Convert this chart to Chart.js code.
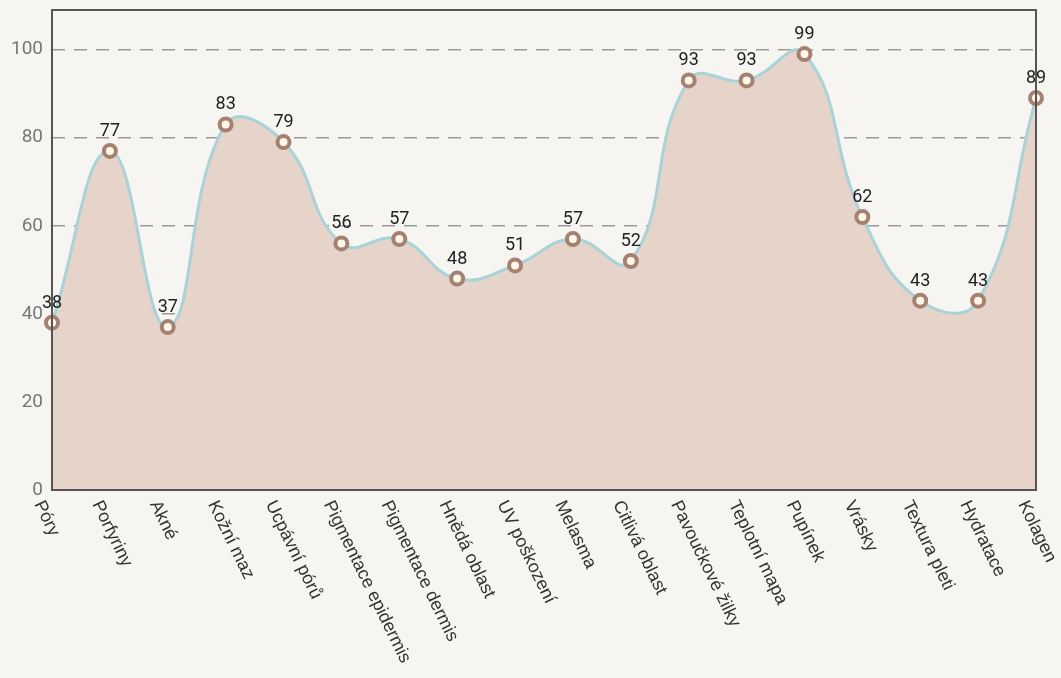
<!DOCTYPE html>
<html>
<head>
<meta charset="utf-8">
<script src="https://cdn.jsdelivr.net/npm/chart.js@4/dist/chart.umd.min.js"></script>
<style>
html,body{margin:0;padding:0;background:#f7f5f1;}
#wrap{position:relative;width:1061px;height:678px;}
</style>
</head>
<body>
<div id="wrap"><canvas id="c"></canvas></div>
<script>
const categories = ["Póry","Porfyriny","Akné","Kožní maz","Ucpávní pórů","Pigmentace epidermis","Pigmentace dermis","Hnědá oblast","UV poškození","Melasma","Citlivá oblast","Pavoučkové žilky","Teplotní mapa","Pupínek","Vrásky","Textura pleti","Hydratace","Kolagen"];
const values = [38,77,37,83,79,56,57,48,51,57,52,93,93,99,62,43,43,89];
const yTicks = [0,20,40,60,80,100];
const yMax = 109;

const framePlugin = {
  id: 'frame',
  afterDatasetsDraw(chart) {
    const ctx = chart.ctx;
    const meta = chart.getDatasetMeta(0);
    ctx.save();
    ctx.font = '400 18px Roboto';
    ctx.fillStyle = '#222';
    ctx.textAlign = 'center';
    ctx.textBaseline = 'alphabetic';
    meta.data.forEach((pt, i) => {
      ctx.fillText(String(values[i]), pt.x, pt.y - 15);
    });
    ctx.restore();
  },
  afterDraw(chart) {
    const ctx = chart.ctx;
    const a = chart.chartArea;
    ctx.save();
    ctx.strokeStyle = '#555';
    ctx.lineWidth = 2;
    ctx.strokeRect(a.left, a.top, a.right - a.left, a.bottom - a.top);
    ctx.restore();
    const xs = chart.scales.x;
    ctx.save();
    ctx.font = '18px "Liberation Sans"';
    ctx.fillStyle = '#333';
    ctx.textAlign = 'left';
    ctx.textBaseline = 'alphabetic';
    categories.forEach((lab, i) => {
      const x = xs.getPixelForValue(i);
      ctx.save();
      ctx.translate(x - 18, a.bottom + 14);
      ctx.rotate(64 * Math.PI / 180);
      ctx.fillText(lab, 0, 0);
      ctx.restore();
    });
    ctx.restore();
  }
};

new Chart(document.getElementById('c'), {
  type: 'line',
  data: {
    labels: categories,
    datasets: [{
      data: values,
      fill: 'origin',
      backgroundColor: '#e6d3c9',
      borderColor: '#a9d3d7',
      borderWidth: 3,
      tension: 0.45,
      pointRadius: 6,
      pointBorderWidth: 4,
      pointBackgroundColor: '#fff8e8',
      pointBorderColor: '#a48170',
      clip: false
    }]
  },
  options: {
    responsive: true,
    maintainAspectRatio: false,
    animation: false,
    layout: { padding: { left: 0, top: 10, right: 25, bottom: 188 } },
    plugins: { legend: { display: false }, tooltip: { enabled: false } },
    scales: {
      x: {
        type: 'category',
        offset: false,
        grid: { display: false },
        border: { display: false },
        ticks: { display: false },
        afterFit(s) { s.height = 0; s.paddingLeft = 0; s.paddingRight = 0; }
      },
      y: {
        min: 0,
        max: yMax,
        afterFit(s) { s.width = 52; s.paddingTop = 0; s.paddingBottom = 0; },
        afterBuildTicks(s) { s.ticks = yTicks.map(v => ({ value: v })); },
        ticks: {
          includeBounds: false,
          padding: 9,
          color: '#777',
          font: { family: 'Roboto', size: 19, weight: '400' }
        },
        grid: { color: '#9a9a9a', lineWidth: 1.5, drawTicks: false },
        border: { display: false, dash: [13, 9] }
      }
    }
  },
  plugins: [framePlugin]
});
</script>
</body>
</html>
